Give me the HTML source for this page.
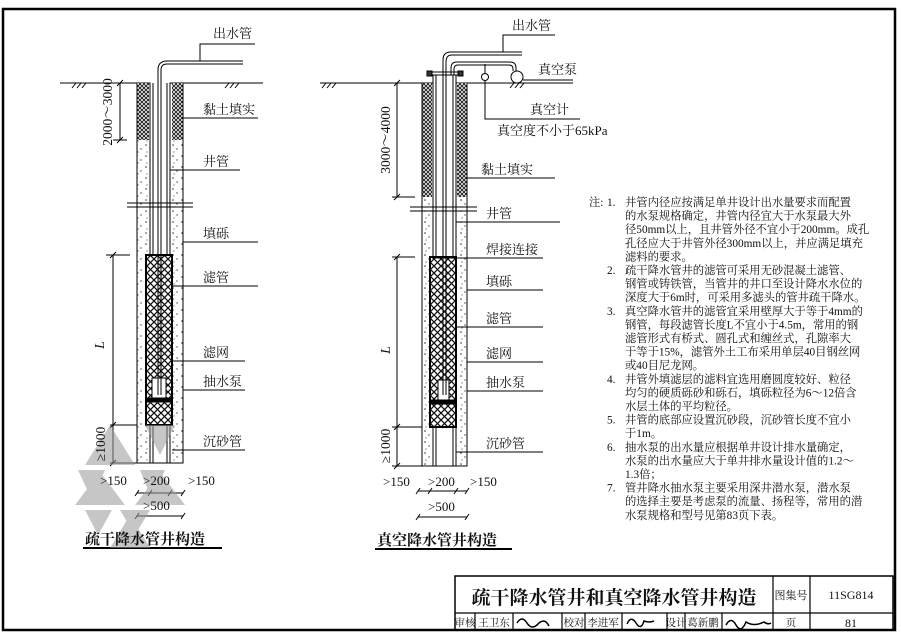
<!DOCTYPE html>
<html><head><meta charset="utf-8"><style>
html,body{margin:0;padding:0;background:#fff;}
svg{display:block;}
text{font-family:"Liberation Serif","Noto Serif CJK SC","Noto Sans CJK SC",serif;fill:#111;}
</style></head><body>
<svg width="901" height="642" viewBox="0 0 901 642" xmlns="http://www.w3.org/2000/svg">
<defs>
<pattern id="clay" width="4" height="4" patternUnits="userSpaceOnUse">
<rect width="4" height="4" fill="#fff"/><path d="M0 0L4 4M4 0L0 4" stroke="#222" stroke-width="1"/>
</pattern>
<pattern id="net" width="7" height="7" patternUnits="userSpaceOnUse">
<rect width="7" height="7" fill="#fff"/><path d="M0 0L7 7M7 0L0 7" stroke="#111" stroke-width="1.3"/>
</pattern>
<pattern id="grav" width="9" height="11" patternUnits="userSpaceOnUse">
<rect width="9" height="11" fill="#fff"/><circle cx="2" cy="2" r="0.8" fill="#333"/><circle cx="6" cy="6" r="0.7" fill="#444"/><circle cx="3" cy="9" r="0.6" fill="#555"/>
</pattern>
</defs>
<g stroke="#000" fill="none">
<path d="M3 9H895V630H3Z" stroke-width="2.5"/>
</g>

<!-- ============ WELL 1 ============ -->
<g stroke="#000" stroke-width="1" fill="none">
<line x1="60" y1="83" x2="137" y2="83"/><line x1="183" y1="83" x2="263" y2="83"/>
<path d="M72 88l4-5M77 88l4-5M82 88l4-5" /><path d="M225 88l4-5M230 88l4-5M235 88l4-5"/>
<rect x="137" y="83" width="13" height="380" fill="url(#grav)"/>
<rect x="170" y="83" width="13" height="380" fill="url(#grav)"/>
<rect x="137" y="83" width="12" height="57" fill="url(#clay)" stroke="none"/>
<rect x="172" y="83" width="11" height="57" fill="url(#clay)" stroke="none"/>
<line x1="137" y1="83" x2="137" y2="463"/><line x1="183" y1="83" x2="183" y2="463"/>
<line x1="137" y1="463" x2="183" y2="463"/>
<line x1="150" y1="83" x2="150" y2="463"/><line x1="153" y1="83" x2="153" y2="463"/>
<line x1="167" y1="83" x2="167" y2="463"/><line x1="170" y1="83" x2="170" y2="463"/>
<rect x="146" y="255" width="26" height="170" fill="url(#net)" stroke="#000" stroke-width="2"/>
<rect x="146" y="398" width="26" height="4" fill="#000"/>
<rect x="152" y="378" width="14" height="20" fill="#fff" stroke="#000"/>
<line x1="127" y1="203" x2="193" y2="203"/><line x1="127" y1="207" x2="193" y2="207"/>
<path d="M158 395V70Q158 61 167 61H243M161 395V70Q161 64 167 64H243" stroke-width="1"/>
<path d="M200 61V44H255"/>
<line x1="183" y1="118" x2="258" y2="118"/>
<line x1="170" y1="170" x2="240" y2="170"/>
<line x1="183" y1="242" x2="258" y2="242"/>
<line x1="172" y1="286" x2="258" y2="286"/>
<line x1="172" y1="361" x2="245" y2="361"/>
<line x1="183" y1="390" x2="245" y2="390"/>
<line x1="172" y1="450" x2="245" y2="450"/>
<line x1="120" y1="83" x2="120" y2="140"/><line x1="117" y1="86" x2="123" y2="80"/><line x1="117" y1="143" x2="123" y2="137"/>
<line x1="113" y1="140" x2="127" y2="140"/>
<line x1="113" y1="255" x2="113" y2="463"/><line x1="106" y1="255" x2="130" y2="255"/><line x1="110" y1="258" x2="116" y2="252"/>
<line x1="110" y1="428" x2="116" y2="422"/><line x1="110" y1="466" x2="116" y2="460"/>
<line x1="110" y1="425" x2="137" y2="425"/><line x1="110" y1="463" x2="137" y2="463"/>
<line x1="137" y1="493" x2="183" y2="493"/><line x1="135" y1="496" x2="139" y2="490"/><line x1="148" y1="496" x2="152" y2="490"/><line x1="168" y1="496" x2="172" y2="490"/><line x1="181" y1="496" x2="185" y2="490"/>
<line x1="137" y1="516" x2="183" y2="516"/><line x1="135" y1="519" x2="139" y2="513"/><line x1="181" y1="519" x2="185" y2="513"/>
<line x1="83" y1="548" x2="222" y2="548" stroke-width="2"/>
</g>
<g fill="#999" opacity="0.55">
<polygon points="110,425 135,465 85,465"/><polygon points="145,425 175,425 160,455"/>
<polygon points="78,470 105,470 92,500"/><polygon points="140,470 165,470 152,500"/>
<polygon points="100,472 125,505 75,505"/><polygon points="160,472 185,505 135,505"/>
<polygon points="85,510 112,510 98,535"/><polygon points="120,510 150,510 135,535"/>
<polygon points="130,515 150,548 110,548"/>
</g>
<g font-size="13">
<text x="213" y="38">出水管</text>
<text x="203" y="114">黏土填实</text>
<text x="203" y="166">井管</text>
<text x="203" y="238">填砾</text>
<text x="203" y="282">滤管</text>
<text x="203" y="357">滤网</text>
<text x="203" y="386">抽水泵</text>
<text x="203" y="446">沉砂管</text>
<text transform="translate(112,112) rotate(-90)" text-anchor="middle" font-size="13.5">2000～3000</text>
<text transform="translate(104,345) rotate(-90)" text-anchor="middle" font-style="italic" font-size="14">L</text>
<text transform="translate(105,444) rotate(-90)" text-anchor="middle" font-size="13.5">≥1000</text>
<text x="100" y="485" font-size="13">&gt;150</text>
<text x="143" y="485" font-size="13">&gt;200</text>
<text x="188" y="485" font-size="13">&gt;150</text>
<text x="143" y="510" font-size="13">&gt;500</text>
<text x="85" y="544" font-size="15" font-weight="bold" font-family="Liberation Sans,Noto Sans CJK SC,sans-serif">疏干降水管井构造</text>
</g>

<!-- ============ WELL 2 ============ -->
<g stroke="#000" stroke-width="1" fill="none">
<line x1="320" y1="83" x2="422" y2="83"/><line x1="467" y1="83" x2="573" y2="83"/>
<path d="M322 88l4-5M327 88l4-5M332 88l4-5"/><path d="M510 88l4-5M515 88l4-5M520 88l4-5"/>
<rect x="422" y="83" width="11" height="383" fill="url(#grav)"/>
<rect x="456" y="83" width="11" height="383" fill="url(#grav)"/>
<rect x="422" y="83" width="10" height="114" fill="url(#clay)" stroke="none"/>
<rect x="457" y="83" width="10" height="114" fill="url(#clay)" stroke="none"/>
<line x1="422" y1="83" x2="422" y2="466"/><line x1="467" y1="83" x2="467" y2="466"/>
<line x1="422" y1="466" x2="467" y2="466"/>
<line x1="433" y1="75" x2="433" y2="466"/><line x1="436" y1="75" x2="436" y2="466"/>
<line x1="453" y1="75" x2="453" y2="466"/><line x1="456" y1="75" x2="456" y2="466"/>
<rect x="430" y="257" width="26" height="170" fill="url(#net)" stroke="#000" stroke-width="2"/>
<rect x="430" y="400" width="26" height="4" fill="#000"/>
<rect x="438" y="380" width="11" height="20" fill="#fff" stroke="#000"/>
<rect x="428" y="72" width="34" height="3" fill="#fff"/>
<rect x="427" y="71" width="5" height="5" fill="#333"/><rect x="458" y="71" width="5" height="5" fill="#333"/>
<line x1="410" y1="207" x2="477" y2="207"/><line x1="410" y1="211" x2="477" y2="211"/>
<path d="M443 395V60Q443 52 451 52H522M446 395V62Q446 55 452 55H522"/>
<path d="M451 75V68Q451 62 457 62H510Q516 62 516 68V71M454 75V69Q454 65 458 65H509Q513 65 513 69V71"/>
<circle cx="517" cy="77" r="6"/>
<line x1="485" y1="64" x2="485" y2="73"/><circle cx="485" cy="77" r="3.5"/>
<path d="M485 81V119H580"/>
<path d="M503 52V35H555"/>
<line x1="523" y1="80" x2="573" y2="80"/>
<line x1="467" y1="178" x2="555" y2="178"/>
<line x1="456" y1="222" x2="560" y2="222"/>
<line x1="432" y1="258" x2="543" y2="258"/>
<line x1="467" y1="290" x2="543" y2="290"/>
<line x1="456" y1="327" x2="543" y2="327"/>
<line x1="467" y1="362" x2="543" y2="362"/>
<line x1="467" y1="391" x2="543" y2="391"/>
<line x1="456" y1="452" x2="543" y2="452"/>
<line x1="397" y1="83" x2="397" y2="197"/><line x1="394" y1="86" x2="400" y2="80"/><line x1="394" y1="200" x2="400" y2="194"/>
<line x1="392" y1="197" x2="415" y2="197"/>
<line x1="397" y1="257" x2="397" y2="466"/><line x1="392" y1="257" x2="415" y2="257"/><line x1="394" y1="260" x2="400" y2="254"/>
<line x1="394" y1="430" x2="400" y2="424"/><line x1="394" y1="469" x2="400" y2="463"/>
<line x1="392" y1="427" x2="422" y2="427"/><line x1="392" y1="466" x2="422" y2="466"/>
<line x1="418" y1="491" x2="467" y2="491"/><line x1="416" y1="494" x2="420" y2="488"/><line x1="428" y1="494" x2="432" y2="488"/><line x1="454" y1="494" x2="458" y2="488"/><line x1="465" y1="494" x2="469" y2="488"/>
<line x1="418" y1="517" x2="467" y2="517"/><line x1="416" y1="520" x2="420" y2="514"/><line x1="465" y1="520" x2="469" y2="514"/>
<line x1="375" y1="549" x2="512" y2="549" stroke-width="2"/>
</g>
<g font-size="13">
<text x="512" y="30">出水管</text>
<text x="538" y="74">真空泵</text>
<text x="530" y="114">真空计</text>
<text x="497" y="135">真空度不小于65kPa</text>
<text x="481" y="174">黏土填实</text>
<text x="486" y="218">井管</text>
<text x="486" y="254">焊接连接</text>
<text x="486" y="286">填砾</text>
<text x="486" y="323">滤管</text>
<text x="486" y="358">滤网</text>
<text x="486" y="387">抽水泵</text>
<text x="486" y="448">沉砂管</text>
<text transform="translate(390,140) rotate(-90)" text-anchor="middle" font-size="13.5">3000～4000</text>
<text transform="translate(390,350) rotate(-90)" text-anchor="middle" font-style="italic" font-size="14">L</text>
<text transform="translate(390,446) rotate(-90)" text-anchor="middle" font-size="13.5">≥1000</text>
<text x="383" y="486" font-size="13">&gt;150</text>
<text x="428" y="486" font-size="13">&gt;200</text>
<text x="470" y="486" font-size="13">&gt;150</text>
<text x="428" y="511" font-size="13">&gt;500</text>
<text x="377" y="545" font-size="15" font-weight="bold" font-family="Liberation Sans,Noto Sans CJK SC,sans-serif">真空降水管井构造</text>
</g>

<!-- ============ NOTES ============ -->
<g font-size="11.3" font-family="Liberation Serif,Noto Serif CJK SC,serif">
<text x="589" y="206">注:</text>
<text x="607" y="206">1.</text><text x="625" y="206">井管内径应按满足单井设计出水量要求而配置</text>
<text x="625" y="219.6">的水泵规格确定，井管内径宜大于水泵最大外</text>
<text x="625" y="233.2">径50mm以上，且井管外径不宜小于200mm。成孔</text>
<text x="625" y="246.8">孔径应大于井管外径300mm以上，并应满足填充</text>
<text x="625" y="260.4">滤料的要求。</text>
<text x="607" y="274">2.</text><text x="625" y="274">疏干降水管井的滤管可采用无砂混凝土滤管、</text>
<text x="625" y="287.6">钢管或铸铁管，当管井的井口至设计降水水位的</text>
<text x="625" y="301.2">深度大于6m时，可采用多滤头的管井疏干降水。</text>
<text x="607" y="314.8">3.</text><text x="625" y="314.8">真空降水管井的滤管宜采用壁厚大于等于4mm的</text>
<text x="625" y="328.4">钢管，每段滤管长度L不宜小于4.5m，常用的钢</text>
<text x="625" y="342">滤管形式有桥式、圆孔式和缠丝式，孔隙率大</text>
<text x="625" y="355.6">于等于15%，滤管外土工布采用单层40目钢丝网</text>
<text x="625" y="369.2">或40目尼龙网。</text>
<text x="607" y="382.8">4.</text><text x="625" y="382.8">井管外填滤层的滤料宜选用磨圆度较好、粒径</text>
<text x="625" y="396.4">均匀的硬质砾砂和砾石，填砾粒径为6～12倍含</text>
<text x="625" y="410">水层土体的平均粒径。</text>
<text x="607" y="423.6">5.</text><text x="625" y="423.6">井管的底部应设置沉砂段，沉砂管长度不宜小</text>
<text x="625" y="437.2">于1m。</text>
<text x="607" y="450.8">6.</text><text x="625" y="450.8">抽水泵的出水量应根据单井设计排水量确定，</text>
<text x="625" y="464.4">水泵的出水量应大于单井排水量设计值的1.2～</text>
<text x="625" y="478">1.3倍；</text>
<text x="607" y="491.6">7.</text><text x="625" y="491.6">管井降水抽水泵主要采用深井潜水泵，潜水泵</text>
<text x="625" y="505.2">的选择主要是考虑泵的流量、扬程等，常用的潜</text>
<text x="625" y="518.8">水泵规格和型号见第83页下表。</text>
</g>

<!-- ============ TITLE BLOCK ============ -->
<g stroke="#000" fill="none" stroke-width="1.2">
<rect x="455" y="576" width="438" height="54" stroke-width="1.5"/>
<line x1="455" y1="613" x2="893" y2="613"/>
<line x1="773" y1="576" x2="773" y2="630"/>
<line x1="810" y1="576" x2="810" y2="630"/>
<line x1="475" y1="613" x2="475" y2="630"/><line x1="513" y1="613" x2="513" y2="630"/>
<line x1="562" y1="613" x2="562" y2="630"/><line x1="585" y1="613" x2="585" y2="630"/>
<line x1="622" y1="613" x2="622" y2="630"/><line x1="667" y1="613" x2="667" y2="630"/>
<line x1="685" y1="613" x2="685" y2="630"/><line x1="722" y1="613" x2="722" y2="630"/>
<path d="M517 623q5-8 10 0t12 0q6-5 10 3" stroke-width="1.5"/>
<path d="M590 624q4-9 9-1t8-2q5 2 10 0" stroke-width="1.5" transform="translate(37,0)"/>
<path d="M726 625q5-9 10 0t10-3q8 5 18 0q4 3 7 1" stroke-width="1.5"/>
</g>
<g>
<text x="614" y="604" text-anchor="middle" font-size="19" font-weight="bold" font-family="Liberation Sans,Noto Sans CJK SC,sans-serif">疏干降水管井和真空降水管井构造</text>
<text x="791" y="599" text-anchor="middle" font-size="11">图集号</text>
<text x="851" y="599" text-anchor="middle" font-size="12">11SG814</text>
<text x="465" y="626" text-anchor="middle" font-size="10.5">审核</text>
<text x="494" y="626" text-anchor="middle" font-size="10.5">王卫东</text>
<text x="574" y="626" text-anchor="middle" font-size="10.5">校对</text>
<text x="603" y="626" text-anchor="middle" font-size="10.5">李进军</text>
<text x="676" y="626" text-anchor="middle" font-size="10.5">设计</text>
<text x="703" y="626" text-anchor="middle" font-size="10.5">葛新鹏</text>
<text x="791" y="626" text-anchor="middle" font-size="10.5">页</text>
<text x="851" y="627" text-anchor="middle" font-size="12">81</text>
</g>
</svg>
</body></html>
